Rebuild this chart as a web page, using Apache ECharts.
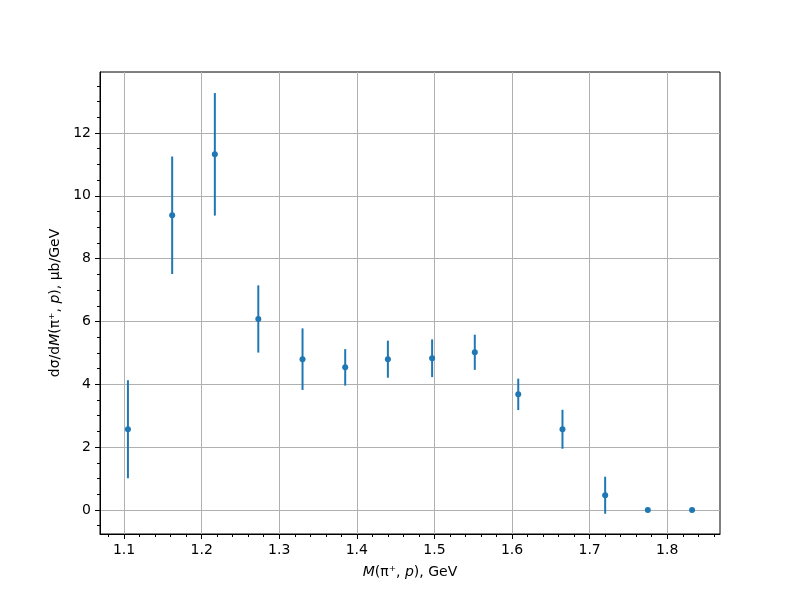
<!DOCTYPE html>
<html lang="en">
<head>
  <meta charset="UTF-8">
  <title>dsigma/dM</title>
  <script src="https://cdn.jsdelivr.net/npm/echarts@6/dist/echarts.min.js"></script>
  <style>
    html, body { margin: 0; padding: 0; background: #fff; }
    #main { width: 800px; height: 600px; }
  </style>
</head>
<body>
  <div id="main"></div>
<script type="text/javascript">
  // data
  var massX = [1.105, 1.162, 1.217, 1.273, 1.330, 1.385, 1.440, 1.497, 1.552, 1.608, 1.665, 1.720, 1.775, 1.832];
  var dsigma = [2.57, 9.38, 11.32, 6.08, 4.80, 4.54, 4.80, 4.83, 5.02, 3.68, 2.57, 0.47, 0, 0];
  var dsigmaErr = [1.56, 1.87, 1.95, 1.07, 0.98, 0.58, 0.59, 0.60, 0.56, 0.50, 0.62, 0.59, 0, 0];
  var xTicks = [1.1, 1.2, 1.3, 1.4, 1.5, 1.6, 1.7, 1.8];
  var yTicks = [0, 2, 4, 6, 8, 10, 12];

  var blue = '#1f77b4';
  var font = 'DejaVu Sans';

  var points = massX.map(function (x, i) { return [x, dsigma[i]]; });
  var bars = massX.map(function (x, i) { return [x, dsigma[i] - dsigmaErr[i], dsigma[i] + dsigmaErr[i]]; });

  var chart = echarts.init(document.getElementById('main'));
  chart.setOption({
    animation: false,
    backgroundColor: '#fff',
    grid: {
      left: 100, right: 80, top: 72, bottom: 66,
      show: true, borderColor: '#000', borderWidth: 1
    },
    xAxis: {
      type: 'value',
      min: 1.069, max: 1.868,
      splitNumber: 8,
      axisLine: { show: true, onZero: false, lineStyle: { color: '#000', width: 1 } },
      axisTick: { show: true, length: 5, customValues: xTicks, lineStyle: { color: '#000' } },
      minorTick: { show: true, splitNumber: 5, length: 3, lineStyle: { color: '#000' } },
      axisLabel: {
        customValues: xTicks, margin: 9, color: '#000', fontFamily: font, fontSize: 14,
        formatter: function (v) { return v.toFixed(1); }
      },
      splitLine: { show: true, lineStyle: { color: '#b0b0b0', width: 1 } },
      name: '{i|M}(π⁺, {i|p}), GeV',
      nameLocation: 'middle',
      nameGap: 31,
      nameTextStyle: {
        color: '#000', fontFamily: font, fontSize: 14,
        rich: { i: { fontStyle: 'italic', fontFamily: font, fontSize: 14, color: '#000' } }
      }
    },
    yAxis: {
      type: 'value',
      min: -0.764, max: 13.94,
      splitNumber: 7,
      axisLine: { show: true, onZero: false, lineStyle: { color: '#000', width: 1 } },
      axisTick: { show: true, length: 5, customValues: yTicks, lineStyle: { color: '#000' } },
      minorTick: { show: true, splitNumber: 4, length: 3, lineStyle: { color: '#000' } },
      axisLabel: { customValues: yTicks, margin: 9, color: '#000', fontFamily: font, fontSize: 14 },
      splitLine: { show: true, lineStyle: { color: '#b0b0b0', width: 1 } },
      name: 'dσ/d{i|M}(π⁺, {i|p}), μb/GeV',
      nameLocation: 'middle',
      nameGap: 38,
      nameTextStyle: {
        color: '#000', fontFamily: font, fontSize: 14,
        rich: { i: { fontStyle: 'italic', fontFamily: font, fontSize: 14, color: '#000' } }
      }
    },
    series: [
      {
        type: 'custom',
        data: bars,
        renderItem: function (params, api) {
          var lo = api.coord([api.value(0), api.value(1)]);
          var hi = api.coord([api.value(0), api.value(2)]);
          return {
            type: 'line',
            shape: { x1: lo[0], y1: lo[1], x2: hi[0], y2: hi[1] },
            style: { stroke: blue, lineWidth: 2 }
          };
        },
        encode: { x: 0, y: [1, 2] },
        z: 2
      },
      {
        type: 'scatter',
        data: points,
        symbol: 'circle',
        symbolSize: 6,
        itemStyle: { color: blue, opacity: 1 },
        z: 3
      }
    ]
  });
</script>
</body>
</html>
